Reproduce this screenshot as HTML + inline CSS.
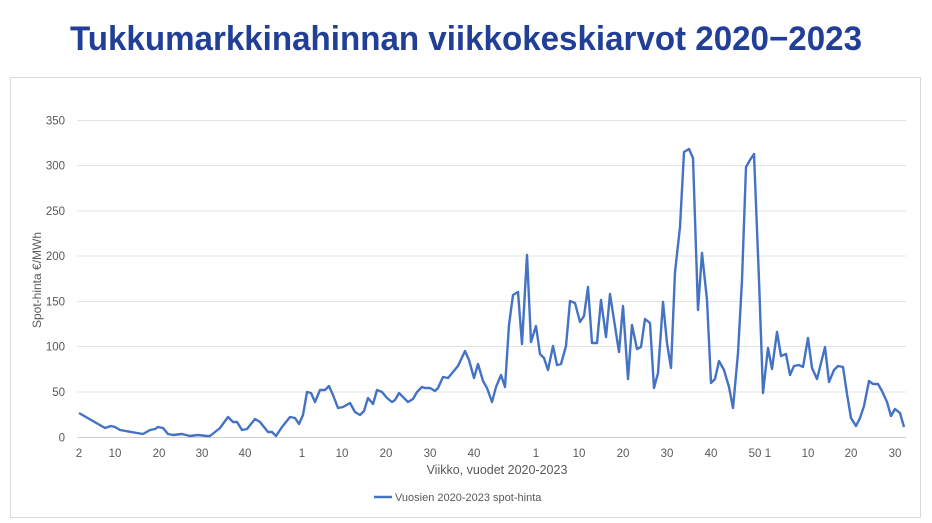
<!DOCTYPE html>
<html><head><meta charset="utf-8"><style>
html,body{margin:0;padding:0;background:#fff;width:932px;height:523px;overflow:hidden}
svg{display:block}
</style></head><body>
<svg width="932" height="523" viewBox="0 0 932 523" xmlns="http://www.w3.org/2000/svg">
<rect width="932" height="523" fill="#fff"/>
<text x="466" y="50" text-anchor="middle" font-family="'Liberation Sans Narrow','Liberation Sans',sans-serif" font-weight="bold" font-size="34" fill="#213f96" textLength="792" lengthAdjust="spacingAndGlyphs">Tukkumarkkinahinnan viikkokeskiarvot 2020−2023</text>
<rect x="10.5" y="77.5" width="910" height="440" fill="none" stroke="#d9d9d9" stroke-width="1"/>
<g stroke="#e3e3e3" stroke-width="1">
<line x1="77" x2="906" y1="120.5" y2="120.5"/>
<line x1="77" x2="906" y1="165.5" y2="165.5"/>
<line x1="77" x2="906" y1="211" y2="211"/>
<line x1="77" x2="906" y1="256" y2="256"/>
<line x1="77" x2="906" y1="301.5" y2="301.5"/>
<line x1="77" x2="906" y1="346.5" y2="346.5"/>
<line x1="77" x2="906" y1="392" y2="392"/>
<line x1="77" x2="906" y1="437.5" y2="437.5" stroke="#d0d0d0"/>
</g>
<g font-family="'Liberation Sans',sans-serif" font-size="11.5" fill="#595959" text-anchor="end">
<text x="65" y="124.5">350</text><text x="65" y="169.5">300</text><text x="65" y="215">250</text>
<text x="65" y="260">200</text><text x="65" y="305.5">150</text><text x="65" y="350.5">100</text>
<text x="65" y="396">50</text><text x="65" y="441.5">0</text>
</g>
<g font-family="'Liberation Sans',sans-serif" font-size="11.5" fill="#595959" text-anchor="middle">
<text x="79" y="457">2</text><text x="115" y="457">10</text><text x="159" y="457">20</text><text x="202" y="457">30</text><text x="245" y="457">40</text>
<text x="302" y="457">1</text><text x="342" y="457">10</text><text x="386" y="457">20</text><text x="430" y="457">30</text><text x="474" y="457">40</text>
<text x="536" y="457">1</text><text x="579" y="457">10</text><text x="623" y="457">20</text><text x="667" y="457">30</text><text x="711" y="457">40</text>
<text x="755" y="457">50</text><text x="768" y="457">1</text><text x="808" y="457">10</text><text x="851" y="457">20</text><text x="895" y="457">30</text>
<text x="497" y="474" font-size="12.5">Viikko, vuodet 2020-2023</text>
<text transform="translate(41,280) rotate(-90)" font-size="12">Spot-hinta €/MWh</text>
</g>
<polyline fill="none" stroke="#4472c4" stroke-width="2.4" stroke-linejoin="round" points="79,413 105,428 111,426 115,427 120,430 137,433 143,434 150,430 155,429 158,427 163,428 168,434 173,435 182,434 190,436 198,435 207,436 210,436 220,428 228,417 233,422 237,422 242,430 247,429 255,419 260,422 268,432 272,432 276,436 282,427 290,417 295,418 299,424 303,415 307,392 311,393 315,402 320,390 325,390 329,386 333,395 338,408 343,407 350,403 355,412 360,415 364,411 368,398 373,404 377,390 382,392 387,398 392,402 395,400 399,393 403,397 408,402 413,399 417,392 422,387 425,388 430,388 435,391 438,388 443,377 448,378 453,372 458,366 465,351 469,360 474,378 478,364 483,381 487,388 492,402 496,387 501,375 505,387 509,325 513,295 518,292 522,344 527,255 531,342 536,326 540,354 544,358 548,370 553,346 557,365 561,364 566,346 570,301 575,303 580,322 584,316 588,287 592,343 597,343 601,300 606,337 610,294 614,320 619,352 623,306 628,379 632,325 637,349 641,347 645,319 650,323 654,388 658,373 663,302 667,343 671,368 675,272 680,227 684,152 689,149 693,158 698,310 702,253 707,300 711,383 715,379 719,361 724,370 729,387 733,408 738,353 742,280 746,167 750,160 754,154 759,280 763,393 768,348 772,369 777,332 781,356 786,354 790,375 794,366 799,365 803,367 808,338 812,368 817,379 821,363 825,347 829,382 834,370 838,366 843,367 847,394 851,418 856,426 860,418 864,406 869,381 873,384 878,384 882,391 887,402 891,416 895,409 900,413 904,427"/>
<line x1="374" x2="392" y1="497" y2="497" stroke="#4472c4" stroke-width="2.4"/>
<text x="395" y="501" font-family="'Liberation Sans',sans-serif" font-size="11" fill="#595959">Vuosien 2020-2023 spot-hinta</text>
</svg>
</body></html>
